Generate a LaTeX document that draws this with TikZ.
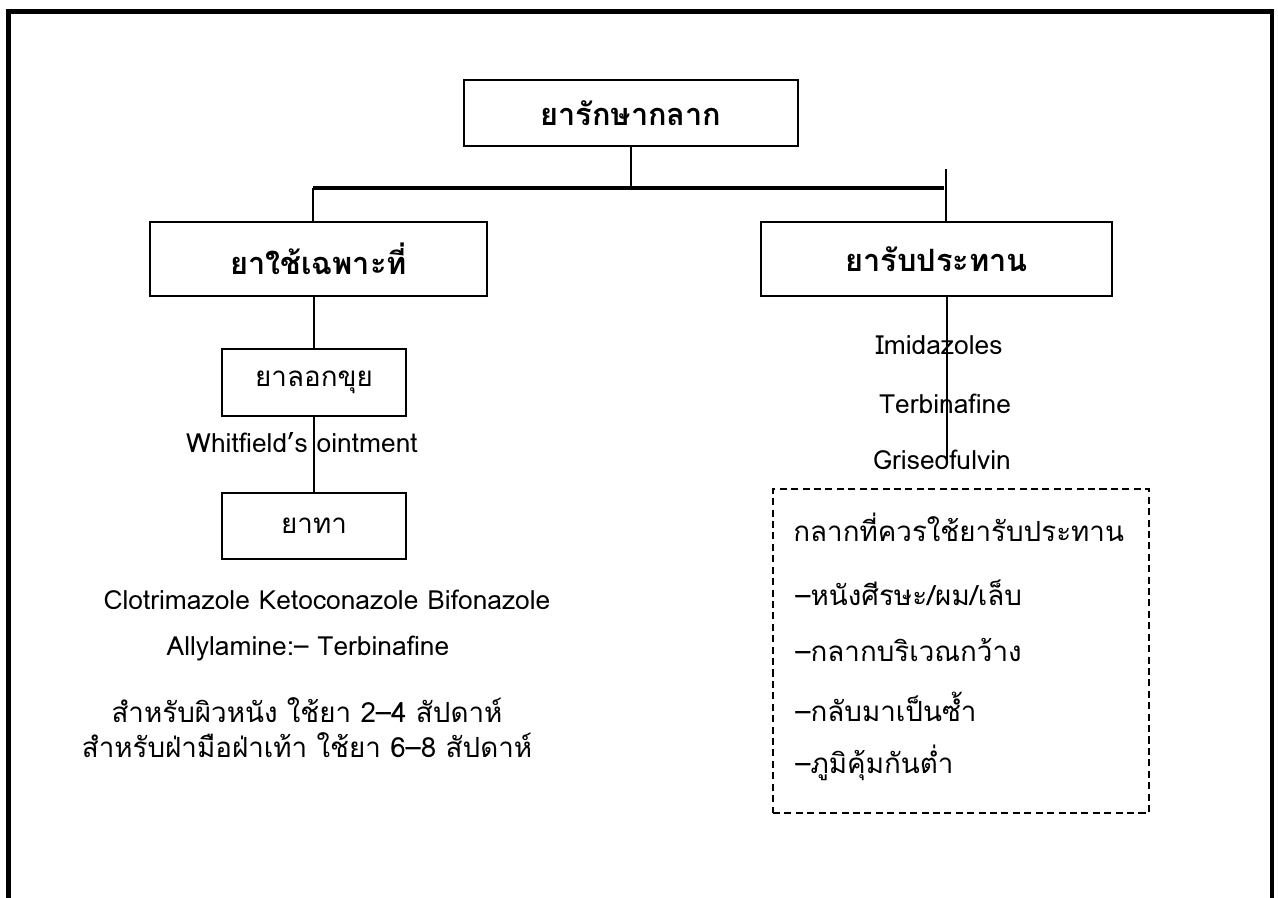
\documentclass[tikz,border=0pt]{standalone}
\usepackage{fontspec}
\setmainfont[Script=Thai]{Loma}
\usetikzlibrary{calc,positioning}

\begin{document}
\begin{tikzpicture}[x=0.02cm,y=-0.02cm,
    box/.style={draw,line width=1.6pt,inner sep=0pt},
    head/.style={box,font=\bfseries\fontsize{17.5}{21}\selectfont},
    plain/.style={font=\fontsize{15}{18}\selectfont,inner sep=0pt},
    thai/.style={font=\fontsize{15.8}{19}\selectfont,inner sep=0pt}]
                \useasboundingbox (0,0) rectangle (1278,897);
                \draw[line width=2.8pt] (8.5,910) -- (8.5,11.5) -- (1272,11.5) -- (1272,910);

                \node[head,minimum width=6.68cm,minimum height=1.32cm] (treat) at (631,113) {ยารักษากลาก};
                \node[head,minimum width=6.74cm,minimum height=1.48cm] (local) at (318.5,259) {ยาใช้เฉพาะที่};
                \node[head,minimum width=7.02cm,minimum height=1.48cm] (oral) at (936.5,259) {ยารับประทาน};
                \node[box,thai,minimum width=3.68cm,minimum height=1.34cm] (peel) at (314,382.5) {ยาลอกขุย};
                \node[box,thai,minimum width=3.68cm,minimum height=1.32cm] (paint) at (314,526) {ยาทา};

                \coordinate (busL) at (313,188);
                \coordinate (busR) at (944,188);
                \coordinate (oralTop) at (946,169);
                \coordinate (oralEnd) at (947,462);
                \draw[line width=1.9pt] (busL) -- (busR);
                \draw[line width=1.5pt] (treat.south) -- (treat.south |- busL);
                \draw[line width=1.5pt] (busL) -- (busL |- local.north);
                \draw[line width=1.5pt] (oralTop) -- (oralTop |- oral.north);
                \draw[line width=1.5pt] (local.south -| peel.north) -- (peel.north);
                \draw[line width=1.5pt] (peel.south) -- (paint.north);
                \draw[line width=1.5pt] (oralEnd |- oral.south) -- (oralEnd);

                \node[plain] (whit) at (302,443) {Whitfield’s ointment};
                \node[plain] (imid) at (939,345) {Imidazoles};
                \node[plain] (terb) at (945,404) {Terbinafine};
                \node[plain] (gris) at (942,460) {Griseofulvin};

                \node[plain] (azole) at (327,600) {Clotrimazole Ketoconazole Bifonazole};
                \node[plain] (ally) at (308,648) {Allylamine:– Terbinafine};
                \node[thai] (skin) at (307,710) {สำหรับผิวหนัง ใช้ยา 2–4 สัปดาห์};
                \node[thai] (palm) at (307,745) {สำหรับฝ่ามือฝ่าเท้า ใช้ยา 6–8 สัปดาห์};

                \node[draw,dashed,dash pattern=on 4pt off 2.5pt,line width=1pt,minimum width=7.52cm,minimum height=6.48cm] (need) at (961,651) {};
                \node[thai,anchor=west] (needhd) at (793,527) {กลากที่ควรใช้ยารับประทาน};
                \node[thai,anchor=west] (need1) at (795,593) {–หนังศีรษะ/ผม/เล็บ};
                \node[thai,anchor=west] (need2) at (795,650) {–กลากบริเวณกว้าง};
                \node[thai,anchor=west] (need3) at (795,707) {–กลับมาเป็นซ้ำ};
                \node[thai,anchor=west] (need4) at (795,763) {–ภูมิคุ้มกันต่ำ};

            \end{tikzpicture}
\end{document}
